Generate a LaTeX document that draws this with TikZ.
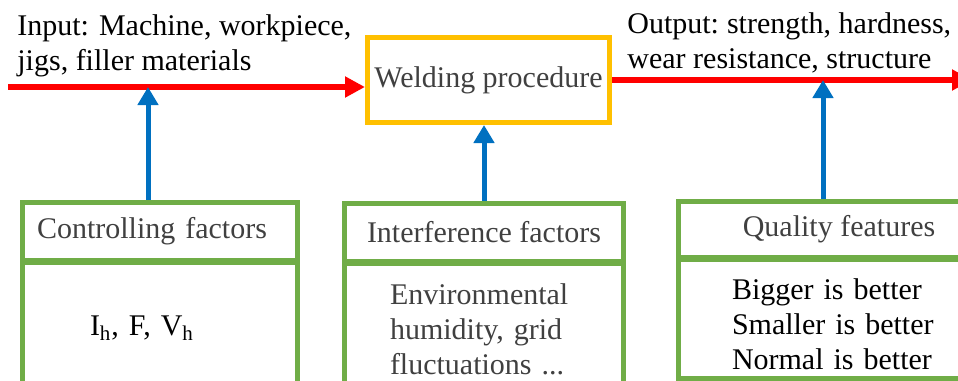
\documentclass[tikz,border=0pt]{standalone}
\usepackage{fontspec}
\setmainfont{Liberation Serif}
\usepackage{tikz}
\usetikzlibrary{arrows.meta, positioning}
\usepackage{xcolor}
\definecolor{weldred}{HTML}{FF0000}
\definecolor{weldorange}{HTML}{FFC000}
\definecolor{factblue}{HTML}{0070C0}
\definecolor{factgreen}{HTML}{70AD47}
\definecolor{textgray}{HTML}{404040}

\begin{document}
\begin{tikzpicture}[x=0.5pt, y=-0.5pt,
        every node/.style={font=\fontsize{15}{17.5}\selectfont},
        flow/.style={line width=3pt, weldred, -{Triangle[length=10pt,width=10pt]}},
        factor/.style={line width=2.5pt, factblue, -{Triangle[length=9pt,width=10pt]}},
        headbox/.style={draw=factgreen, line width=2.5pt, text=textgray, minimum height=29pt},
        bodybox/.style={draw=factgreen, line width=2.5pt, align=left}]

        % Canvas
        \useasboundingbox (0,0) rectangle (958,380);
        \clip (0,0) rectangle (958,380);

        % Welding procedure
        \node[draw=weldorange, line width=2.5pt, text=textgray, minimum width=121pt, minimum height=42.5pt] (weld) at (488.5,80) {Welding procedure};

        % Input and output
        \coordinate (in) at (8,87);
        \coordinate (out) at (972,80);
        \node[anchor=north west, inner sep=0pt, align=left] (input) at (17,14.5) {Input: Machine, workpiece,\\jigs, filler materials};
        \node[anchor=north west, inner sep=0pt, align=left] (output) at (627,12) {Output:\hspace{4pt}strength, hardness,\\wear resistance, structure};
        \draw[flow] (in) -- (in -| weld.west); % input flow
        \draw[flow] (weld.east) -- (weld.east -| out); % output flow

        % Factor boxes
        \node[headbox, text width=123pt, inner xsep=7.25pt, align=left] (ctrlhead) at (160,231) {Controlling factors};
        \node[bodybox, below=-1.5pt of ctrlhead, text width=70pt, inner xsep=33.75pt, minimum height=66pt] (ctrlbody) {I\textsubscript{h}, F, V\textsubscript{h}};

        \node[headbox, minimum width=139.5pt] (intfhead) at (484,232) {Interference factors};
        \node[bodybox, below=-1.5pt of intfhead, text width=94pt, inner xsep=22.75pt, minimum height=66pt, text=textgray] (intfbody) {Environmental\\humidity, grid\\fluctuations ...};

        \node[headbox, minimum width=160.5pt, minimum height=28pt] (qualhead) at (839,229) {Quality features};
        \node[bodybox, below=-1.5pt of qualhead, text width=107pt, inner xsep=26.75pt, minimum height=59.5pt] (qualbody) {\rule{0pt}{16.5pt}Bigger is better\\Smaller is better\\Normal is better};

        % Arrows from the factors
        \coordinate (ctrltop) at ([xshift=-6pt]ctrlhead.north);
        \coordinate (qualtop) at ([xshift=-8pt]qualhead.north);
        \draw[factor] (ctrltop) -- (ctrltop |- in);
        \draw[factor] (intfhead.north) -- (intfhead.north |- weld.south);
        \draw[factor] (qualtop) -- (qualtop |- out);
\end{tikzpicture}
\end{document}
